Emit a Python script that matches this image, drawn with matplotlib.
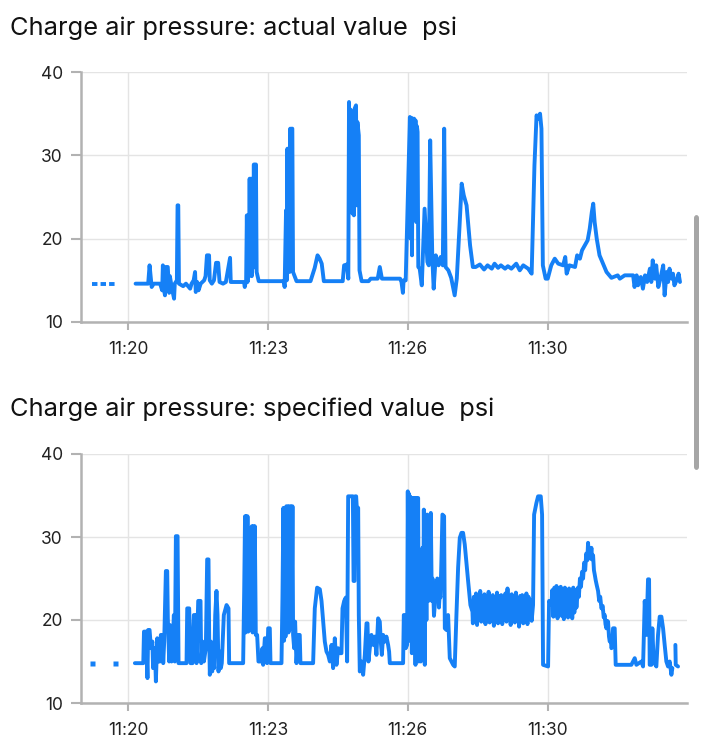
import matplotlib
matplotlib.use("Agg")
import numpy as np
import matplotlib.pyplot as plt
import matplotlib.dates as mdates
from matplotlib.patches import FancyBboxPatch

plt.rcParams['font.family'] = ['Inter', 'DejaVu Sans']
plt.rcParams['path.simplify'] = False

# ---------------- data (seconds after 11:20:00, psi) ----------------
titles = ["Charge air pressure: actual value  psi",
          "Charge air pressure: specified value  psi"]
tick_times = ["11:20:00", "11:23:20", "11:26:40", "11:30:00"]
tick_labels = ["11:20", "11:23", "11:26", "11:30"]
y_ticks = [10, 20, 30, 40]

actual_early_t = [-51, -16]
actual_early_v = [14.6, 14.6]

actual_t = [11, 29, 31, 34, 37, 46, 49, 50, 51, 53, 54, 57, 59, 60, 63, 66, 67, 70, 71, 72, 73,
            79, 83, 89, 91, 94, 96, 97, 99, 101, 104, 109, 111, 113, 116, 117, 120, 123, 126, 129,
            131, 136, 140, 146, 147, 166, 167, 169, 170, 171, 172, 173, 174, 175, 176, 177, 178,
            179, 180, 181, 182, 183, 184, 187, 223, 224, 226, 227, 228, 229, 230, 231, 232, 233,
            234, 235, 236, 241, 261, 267, 271, 274, 277, 280, 307, 309, 313, 315, 316, 317, 318,
            319, 321, 322, 323, 324, 326, 327, 328, 330, 331, 334, 344, 347, 357, 360, 363, 389,
            391, 393, 394, 397, 403, 404, 405, 406, 407, 408, 409, 410, 411, 412, 413, 414, 415,
            417, 420, 424, 428, 430, 432, 435, 437, 440, 444, 447, 450, 452, 454, 458, 462, 467,
            470, 474, 477, 480, 484, 489, 493, 497, 503, 509, 514, 520, 524, 529, 533, 539, 543,
            548, 555, 560, 565, 572, 577, 581, 584, 586, 589, 591, 593, 597, 600, 605, 610, 615,
            622, 625, 627, 631, 639, 642, 646, 649, 653, 657, 660, 663, 665, 667, 670, 674, 679,
            684, 691, 700, 703, 710, 722, 724, 727, 729, 733, 736, 739, 742, 746, 748, 750, 753,
            755, 758, 761, 765, 767, 770, 772, 774, 777, 779, 781, 785, 787, 789]
actual_v = [14.6, 14.6, 16.8, 14.2, 14.6, 14.6, 13.8, 16.8, 14.2, 13.2, 16.6, 16.6, 13.5, 15.5,
            14.0, 12.8, 14.6, 15.0, 24.0, 24.0, 14.6, 14.3, 14.6, 14.0, 14.6, 15.0, 16.0, 13.6,
            14.8, 13.8, 14.6, 15.0, 15.5, 18.0, 18.0, 15.0, 14.6, 15.0, 17.1, 17.1, 14.8, 14.6,
            14.8, 17.7, 14.8, 14.8, 14.2, 15.0, 22.8, 14.8, 22.5, 15.5, 27.2, 16.0, 27.2, 15.5,
            27.2, 16.5, 28.9, 17.0, 28.9, 28.9, 16.0, 14.9, 14.9, 14.2, 23.4, 15.0, 30.8, 17.0,
            30.8, 16.0, 33.2, 18.0, 33.2, 33.2, 16.0, 14.9, 14.9, 16.5, 18.0, 17.6, 17.0, 14.9,
            14.9, 16.8, 16.9, 15.2, 36.4, 25.0, 35.5, 35.2, 23.0, 35.0, 22.8, 35.6, 36.0, 24.0,
            34.0, 32.4, 16.2, 14.9, 14.9, 15.2, 15.2, 16.6, 15.2, 15.2, 14.8, 13.5, 15.0, 15.0,
            34.6, 20.0, 34.5, 18.0, 34.4, 25.0, 34.4, 24.4, 34.2, 22.0, 33.5, 32.8, 16.6, 16.4,
            14.4, 23.6, 17.2, 16.8, 31.8, 17.8, 14.0, 18.0, 16.8, 17.8, 16.8, 33.2, 16.6, 16.2,
            15.3, 13.2, 15.2, 21.6, 26.6, 25.2, 24.0, 19.2, 16.6, 16.6, 16.9, 16.3, 16.8, 16.4,
            17.0, 16.5, 16.8, 16.4, 16.7, 16.4, 17.0, 16.2, 16.8, 16.4, 15.8, 28.8, 34.8, 34.4,
            35.0, 33.2, 16.8, 15.2, 15.2, 16.8, 17.6, 17.0, 16.8, 17.8, 15.8, 16.8, 16.6, 18.0,
            17.6, 18.6, 19.2, 19.8, 21.2, 23.2, 24.2, 22.0, 20.0, 18.0, 17.0, 16.0, 15.3, 15.6,
            15.2, 15.6, 15.6, 14.2, 15.6, 14.4, 15.4, 14.0, 15.6, 14.8, 16.4, 14.8, 17.4, 15.2,
            16.8, 14.2, 15.2, 16.8, 13.2, 16.0, 14.8, 16.4, 15.2, 15.8, 14.4, 15.2, 15.8, 14.8]

spec_early_t = [-51, -19]
spec_early_v = [14.8, 14.8]

spec_t = [10, 22, 23, 26, 28, 29, 31, 33, 35, 36, 38.6, 40, 42, 43.3, 45.7, 47.1, 49.5, 50.5,
          51.9, 54.3, 56.2, 57.1, 59, 60, 62.4, 63.8, 65.7, 67.1, 68.6, 71, 72.4, 83.8, 84.8,
          87.6, 89.5, 92.4, 94.3, 97.1, 98.1, 100.5, 103.8, 104.8, 106.7, 108.6, 111.4, 113.3,
          115.2, 116.2, 117.1, 118.6, 120.5, 121.9, 123.3, 124.8, 126.6, 128.1, 129.5, 131.4,
          132.8, 134.2, 137.1, 141, 143.8, 144.7, 164.7, 166.2, 167.4, 168.2, 169, 169.8, 170.9,
          172, 173, 174, 175, 176.1, 177.1, 178.2, 179.3, 180.4, 181.4, 182.8, 184.7, 186.6,
          190.9, 192.3, 193.3, 195.7, 198, 199, 200.5, 202.8, 203.8, 219.5, 220.9, 222.2, 223.2,
          224.2, 225.2, 226.4, 227.4, 228.6, 229.6, 230.8, 231.8, 233, 234, 235.2, 236.1, 237.6,
          239, 240.9, 243.3, 245.6, 246.6, 264.7, 267.1, 270.4, 274.3, 276.7, 279.1, 281.4,
          283.8, 286.2, 288.6, 291, 293.3, 295.7, 298.1, 300.5, 302.9, 305.2, 306.7, 309.1,
          311.4, 313.3, 314.8, 321.5, 322.5, 323.8, 324.8, 326.2, 327, 329.1, 330, 331.4, 333.8,
          336.2, 338.6, 341, 342.4, 343.8, 345.7, 348.1, 350.5, 352.9, 355.2, 357.6, 360,
          361.4, 362.9, 364.8, 367.1, 369.5, 371.9, 373.3, 374.3, 393.3, 394.3, 396.2, 397.1,
          399, 400, 401, 401.8, 402.6, 403.4, 404.3, 405, 405.8, 406.6, 407.6, 408.4, 409.2,
          410, 411, 411.8, 412.8, 413.8, 414.8, 415.7, 417.1, 418.6, 419.8, 421, 422, 422.9,
          424.3, 425, 425.7, 426.6, 427.6, 428.5, 429.5, 430.5, 431.4, 432.9, 434.3, 435.3,
          436.2, 437.4, 438.6, 439.8, 441, 442.2, 443.3, 444.5, 445.5, 446.7, 448, 449.5, 451.9,
          452.9, 455.2, 457.6, 460, 462.4, 464.8, 467.1, 469.5, 471.9, 474.3, 476.7, 479,
          481.4, 486.2, 489.5, 492.4,
          493, 494.5, 496, 497.5, 499, 500.5, 502, 503.5, 505, 506.5, 508, 509.5, 511, 512.5,
          514, 515.5, 517, 518.5, 520, 521.5, 523, 524.5, 526, 527.5, 529, 530.5, 532, 533.5,
          535, 536.5, 538, 539.5, 541, 542.5, 544, 545.5, 547, 548.5, 550, 551.5, 553, 554.5,
          556, 557.5, 559, 560.5, 562, 563.5, 565, 566.5, 568, 569.5, 571, 572.5, 574, 575.5,
          577, 579, 580.5, 583.8, 586.2, 590, 591.9, 593.3, 600.5, 601.9, 605.2,
          606.5, 608, 609.5, 611, 612.5, 614, 615.5, 617, 618.5, 620, 621.5, 623, 624.5, 626,
          627.5, 629, 630.5, 632, 633.5, 635, 636.5, 638, 639.5, 641, 643.3, 644.5, 646, 647.5,
          649, 650.5, 652, 653.5, 655, 656.5, 657.6, 659, 660, 661, 662.4, 663.5, 664.8, 666,
          667.1, 668.5, 670, 671.9, 673.5, 675, 676.7, 678.5, 680, 681.4, 682.5, 683.8, 685,
          686.2, 687.5, 688.6, 690, 691, 692, 693.3, 695.7, 697.1, 719.5, 724.3, 726.7, 733.8,
          736.2, 738.6, 741, 743.3, 744.8, 745.7, 748.1, 749.5, 751.4, 755.2, 757.6, 760, 762.4,
          764.8, 767.1, 769.5, 771.9, 774.3, 776.7, 778.1, 780, 782.4, 782.9, 786.2]
spec_v = [14.8, 14.8, 18.6, 18.6, 13.0, 18.8, 18.8, 16.6, 17.4, 14.2, 16.6, 12.6, 17.8, 15.0,
          15.0, 18.2, 18.2, 14.8, 17.4, 25.9, 25.9, 20.2, 15.0, 19.4, 15.0, 16.6, 20.6, 15.0,
          30.1, 30.1, 14.8, 14.8, 21.4, 21.4, 14.8, 14.8, 20.6, 20.6, 14.8, 22.3, 22.3, 14.8,
          17.4, 15.0, 16.6, 27.3, 27.3, 17.8, 13.4, 17.4, 13.8, 16.6, 14.2, 20.6, 23.5, 20.6,
          13.8, 16.2, 14.2, 14.8, 20.6, 21.8, 21.4, 14.8, 14.8, 23.5, 32.5, 18.5, 32.5, 20.0,
          32.5, 18.6, 30.7, 19.0, 30.7, 20.0, 31.3, 18.5, 31.3, 19.0, 31.3, 18.2, 18.2, 15.0,
          15.0, 16.6, 14.6, 17.8, 17.8, 14.8, 19.0, 19.0, 14.8, 14.8, 22.7, 33.5, 17.5, 33.5,
          18.0, 33.7, 20.0, 33.7, 18.5, 33.7, 21.0, 33.7, 19.0, 33.7, 18.2, 16.6, 19.8, 14.8,
          18.2, 18.2, 14.8, 14.8, 21.4, 23.9, 23.7, 22.3, 19.8, 17.4, 16.2, 15.8, 15.0, 17.0,
          14.2, 17.8, 14.6, 16.6, 16.0, 16.0, 21.4, 22.3, 22.7, 15.0, 34.9, 34.9, 24.7, 24.7,
          34.9, 34.9, 33.7, 33.5, 20.6, 13.8, 15.0, 13.4, 15.8, 19.6, 19.6, 15.0, 16.6, 18.2,
          17.0, 18.0, 15.8, 20.2, 19.8, 17.4, 15.8, 18.2, 17.4, 18.0, 17.0, 16.2, 14.8, 14.8,
          20.6, 20.6, 16.6, 17.0, 35.5, 20.0, 35.2, 17.5, 34.9, 22.7, 34.7, 16.0, 34.7, 22.7,
          34.7, 19.0, 34.7, 14.6, 34.7, 21.0, 34.7, 34.7, 15.0, 22.7, 15.0, 26.0, 28.7, 18.0,
          33.3, 14.6, 26.0, 28.7, 20.0, 32.7, 24.0, 22.3, 26.0, 22.7, 32.9, 22.3, 25.0, 23.9,
          20.5, 21.8, 24.5, 22.3, 25.0, 24.7, 21.5, 23.0, 22.7, 27.0, 32.7, 32.5, 19.0, 18.8,
          20.6, 15.4, 15.0, 14.6, 14.4, 20.6, 26.3, 29.9, 30.5, 30.5, 29.1, 24.7, 21.8, 21.0,
          19.6, 22.8, 20.1, 23.2, 19.4, 22.4, 20.3, 23.5, 19.8, 22.9, 20.5, 23.1, 19.5, 22.6,
          20.0, 23.4, 19.7, 22.7, 20.4, 23.0, 19.3, 22.5, 20.2, 23.3, 19.6, 22.9, 20.0, 23.0,
          19.5, 22.4, 20.3, 23.2, 19.8, 23.8, 20.1, 22.6, 19.4, 23.1, 20.2, 22.7, 19.7, 23.3,
          20.0, 22.5, 19.2, 22.9, 20.4, 23.0, 19.6, 22.6, 20.1, 23.2, 19.5, 22.8, 20.3, 22.4,
          19.9, 21.8, 32.7, 34.1, 34.9, 34.9, 32.7, 14.6, 14.4, 22.3, 21.8,
          23.6, 20.4, 23.9, 20.8, 24.1, 20.2, 23.5, 20.9, 24.0, 20.5, 23.7, 20.1, 23.9, 20.7,
          23.4, 20.3, 23.8, 20.6, 23.5, 20.2, 23.9, 20.9, 23.6, 21.5, 23.9, 22.8, 25.0, 24.0,
          25.8, 25.0, 26.9, 26.0, 28.0, 27.2, 29.3, 27.6, 28.4, 27.4, 28.7, 27.3, 27.8, 26.0,
          25.5, 24.8, 24.2, 23.5, 22.3, 22.8, 21.4, 21.7, 20.3, 20.6, 19.5, 19.0, 19.9, 19.8,
          18.0, 17.4, 17.9, 16.6, 16.8, 19.0, 19.0, 14.6, 14.6, 15.4, 14.6, 15.0, 14.4, 22.3,
          18.2, 24.9, 24.9, 14.6, 14.6, 19.0, 15.0, 14.4, 18.2, 20.4, 20.4, 19.0, 17.0, 15.0,
          14.4, 15.0, 13.4, 14.2, np.nan, 17.0, 14.6, 14.4]

# ---------------- drawing ----------------
BLUE = '#1580f6'
BASE = np.datetime64('2024-01-01T11:20:00')


def to_time(sec):
    return BASE + (np.asarray(sec, dtype=float) * 1000).astype('timedelta64[ms]')


fig = plt.figure(figsize=(7.16, 7.5), dpi=100)
axes_rects = [[81 / 716, 1 - 322 / 750, 606 / 716, 250 / 750],
              [81 / 716, 1 - 703 / 750, 606 / 716, 249 / 750]]
series = [(actual_early_t, actual_early_v, actual_t, actual_v, 'dash'),
          (spec_early_t, spec_early_v, spec_t, spec_v, 'dots')]
title_y = [1 - 28 / 750, 1 - 409 / 750]

tick_pos = [np.datetime64('2024-01-01T' + s) for s in tick_times]
LW = 2.8

for rect, (et, ev, t, v, mode), title, ty in zip(axes_rects, series, titles, title_y):
    ax = fig.add_axes(rect)
    ax.plot(to_time(t), v, color=BLUE, lw=LW, solid_joinstyle='round',
            solid_capstyle='round', zorder=3)
    if mode == 'dash':
        ax.plot(to_time(et), ev, color=BLUE, lw=LW, dashes=(1.4, 0.8),
                dash_capstyle='butt', zorder=3)
    else:
        ax.plot(to_time(et), ev, color=BLUE, lw=0, marker='s', ms=3.6,
                mec='none', zorder=3)
    ax.set_ylim(10, 40)
    ax.set_xlim(to_time(-67), to_time(799))
    ax.set_yticks(y_ticks)
    ax.set_xticks(tick_pos)
    ax.set_xticklabels(tick_labels)
    ax.grid(True, color='#e4e4e4', lw=1.0, zorder=0)
    for s in ['top', 'right']:
        ax.spines[s].set_visible(False)
    for s in ['left', 'bottom']:
        ax.spines[s].set_color('#b2b2b2')
        ax.spines[s].set_linewidth(1.8)
    ax.tick_params(axis='y', length=7, width=1.5, color='#b2b2b2', pad=6,
                   labelsize=12.5, labelcolor='#222222')
    ax.tick_params(axis='x', length=6, width=1.5, color='#b2b2b2', pad=8,
                   labelsize=12.5, labelcolor='#222222')
    fig.text(10 / 716, ty, title, fontsize=18.3, color='#111111', va='center', ha='left')

# scrollbar decoration
fig.patches.append(FancyBboxPatch((694 / 716, 1 - 470 / 750), 5 / 716, 255 / 750,
                                  boxstyle='round,pad=0,rounding_size=0.004',
                                  transform=fig.transFigure, facecolor='#a6a6a6',
                                  edgecolor='none'))

fig.savefig('out.png', dpi=100)
